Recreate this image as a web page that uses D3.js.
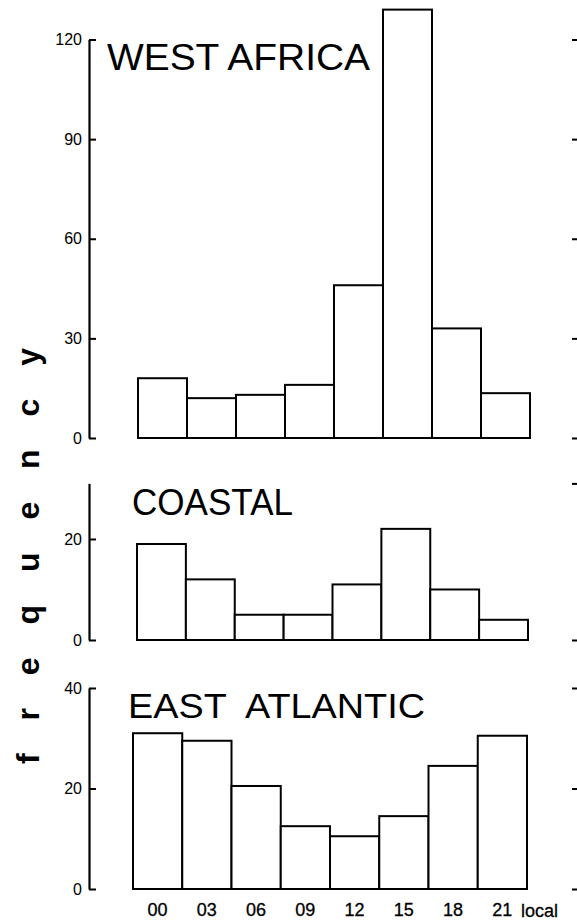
<!DOCTYPE html>
<html>
<head>
<meta charset="utf-8">
<script src="https://cdn.jsdelivr.net/npm/d3@7"></script>
<style>
  html, body { margin: 0; padding: 0; background: #fff; }
  svg { display: block; }
  text { font-family: "Liberation Sans", Arial, sans-serif; fill: #000; }
</style>
</head>
<body>
<div id="chart"></div>
<script>
// ---- data ----
const hours = ["00", "03", "06", "09", "12", "15", "18", "21"];
const westAfrica   = [18, 12, 13, 16, 46, 129, 33, 13.5];
const coastal      = [19, 12, 5, 5, 11, 22, 10, 4];
const eastAtlantic = [31, 29.5, 20.5, 12.5, 10.5, 14.5, 24.5, 30.5];
const titles = ["WEST AFRICA", "COASTAL", "EAST  ATLANTIC"];
const ticksWest = [0, 30, 60, 90, 120];
const ticksCoastal = [0, 20];
const ticksEast = [0, 20, 40];
const yLabel = "frequency";
const xUnit = "local";

// ---- layout ----
const W = 577, H = 923;
const svg = d3.select("#chart").append("svg")
  .attr("width", W).attr("height", H);

const panels = [
  { values: westAfrica, title: titles[0], ticks: ticksWest, yMax: 120,
    base: 438, top: 39.5, x0: 138, x1: 530,
    tx: 107, ty: 70, tLen: 263, tfs: 37, rightTicks: ticksWest },
  { values: coastal, title: titles[1], ticks: ticksCoastal, yMax: 31,
    base: 640, top: 483.4, x0: 137, x1: 528,
    tx: 132, ty: 515, tLen: 161, tfs: 36, rightTicks: [0, 31] },
  { values: eastAtlantic, title: titles[2], ticks: ticksEast, yMax: 40,
    base: 889, top: 688, x0: 133, x1: 527,
    tx: 128, ty: 718, tLen: 297, tfs: 35, rightTicks: ticksEast }
];

const axisX = 89;

panels.forEach((p, i) => {
  const g = svg.append("g");
  const x = d3.scaleBand().domain(hours).range([p.x0, p.x1]).paddingInner(0).paddingOuter(0);
  const y = d3.scaleLinear().domain([0, p.yMax]).range([p.base, p.top]);

  // bars
  g.selectAll("rect.bar")
    .data(p.values)
    .join("rect")
    .attr("class", "bar")
    .attr("x", (d, j) => x(hours[j]))
    .attr("width", x.bandwidth())
    .attr("y", d => y(d))
    .attr("height", d => y(0) - y(d))
    .attr("fill", "#fff")
    .attr("stroke", "#000")
    .attr("stroke-width", 2);

  // left axis
  const ax = g.append("g")
    .attr("transform", `translate(${axisX},0)`)
    .call(d3.axisLeft(y).tickValues(p.ticks).tickSizeInner(-7).tickSizeOuter(0).tickPadding(7));
  ax.select(".domain").attr("stroke", "#000").attr("stroke-width", 2.2);
  ax.selectAll(".tick line").attr("stroke", "#000").attr("stroke-width", 2);
  ax.selectAll(".tick text")
    .attr("font-size", 16)
    .attr("font-family", "Liberation Sans, Arial, sans-serif")
    .attr("fill", "#000");

  // right ticks (no labels)
  const ar = g.append("g")
    .attr("transform", `translate(${W},0)`)
    .call(d3.axisLeft(y).tickValues(p.rightTicks).tickSize(5).tickFormat(""));
  ar.select(".domain").remove();
  ar.selectAll(".tick line").attr("stroke", "#000").attr("stroke-width", 2);

  // title
  g.append("text")
    .attr("x", p.tx).attr("y", p.ty)
    .attr("xml:space", "preserve")
    .style("white-space", "pre")
    .attr("font-size", p.tfs)
    .attr("textLength", p.tLen)
    .attr("lengthAdjust", "spacingAndGlyphs")
    .text(p.title);

  // x labels on bottom panel
  if (i === panels.length - 1) {
    const xa = g.append("g")
      .attr("transform", `translate(0,${p.base})`)
      .call(d3.axisBottom(x).tickSize(0).tickPadding(14));
    xa.select(".domain").remove();
    xa.selectAll(".tick text")
      .attr("font-size", 18)
      .attr("font-family", "Liberation Sans, Arial, sans-serif")
      .attr("fill", "#000")
      .attr("stroke", "#000").attr("stroke-width", 0.3);
    g.append("text")
      .attr("x", x(hours[hours.length - 1]) + x.bandwidth() - 6)
      .attr("y", 917)
      .attr("font-size", 18)
      .attr("stroke", "#000").attr("stroke-width", 0.3)
      .text(xUnit);
  }
});

// y label
svg.append("text")
  .attr("transform", "translate(39,764) rotate(-90)")
  .attr("font-size", 32)
  .attr("font-weight", "bold")
  .attr("textLength", 416)
  .attr("lengthAdjust", "spacing")
  .text(yLabel);
</script>
</body>
</html>
